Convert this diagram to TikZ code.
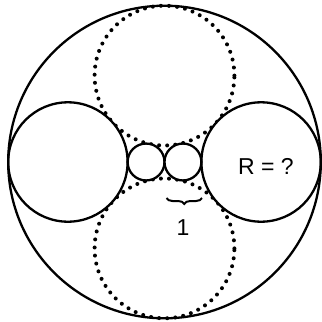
\documentclass[tikz,border=0pt]{standalone}
\usepackage{fontspec}
\setmainfont{Liberation Sans}
\usetikzlibrary{decorations.pathreplacing}
\begin{document}
\begin{tikzpicture}[x=1pt,y=-1pt,
  solidc/.style={line width=2.3pt},
  dotc/.style={line width=4pt, line cap=round, dash pattern=on 0pt off 8.1pt},
  lbl/.style={inner sep=0pt, font=\fontsize{23}{27}\selectfont},
  bracestyle/.style={line width=2pt, decorate, decoration={brace, amplitude=6pt, mirror}}]
\useasboundingbox (0,0) rectangle (322,322);
% dotted circles
\draw[dotc] (164.5,75.6) circle[radius=69.9pt];
\draw[dotc] (164.5,248.4) circle[radius=69.9pt];
% solid circles
\draw[solidc, fill=white] (67.9,162) circle[radius=59.7pt];
\draw[solidc, fill=white] (261.1,162) circle[radius=59.7pt];
\draw[solidc, fill=white] (146.05,162) circle[radius=18.45pt];
\draw[solidc, fill=white] (182.95,162) circle[radius=18.45pt];
\draw[solidc] (164.5,162) circle[radius=156.3pt];
% brace
\coordinate (bl) at (166.5,198);
\coordinate (br) at (202,198);
\draw[bracestyle] (bl) -- (br);
\node[lbl] (one) at (183,227.5) {1};
\node[lbl] (rq) at (266,166) {R = ?};
\end{tikzpicture}
\end{document}
